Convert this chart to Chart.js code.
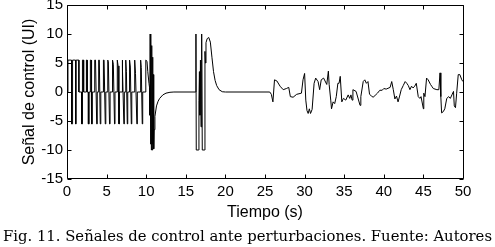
<!DOCTYPE html>
<html>
<head>
<meta charset="utf-8">
<script src="https://cdn.jsdelivr.net/npm/chart.js@4.4.1/dist/chart.umd.min.js"></script>
<style>
  html, body { margin: 0; padding: 0; background: #fff; }
  #wrap { position: relative; width: 495px; height: 247px; overflow: hidden; }
  #c { position: absolute; left: 0; top: 0; }
  #cap { position: absolute; left: 3px; top: 229px; font-family: "DejaVu Serif", serif; font-size: 14px; line-height: 14px; white-space: nowrap; color: #000; transform-origin: 0 0; }
</style>
</head>
<body>
<div id="wrap">
  <canvas id="c" width="495" height="247"></canvas>
  <div id="cap">Fig. 11. Señales de control ante perturbaciones. Fuente: Autores</div>
</div>
<script>
// ---- data (time in s, control signal in UI) ----
const xTicks = [0, 5, 10, 15, 20, 25, 30, 35, 40, 45, 50];
const yTicks = [-15, -10, -5, 0, 5, 10, 15];

const squareWave = [[0,0],[0.12,0],[0.12,5.5],[0.57,5.5],[0.57,-5.5],[0.65,-5.5],[0.65,0],[0.73,0],[0.73,5.5],[1.08,5.5],[1.08,-5.5],[1.16,-5.5],[1.16,5.5],[1.5,5.5],[1.5,0],[1.85,0],[1.85,-5.5],[1.95,-5.5],[1.95,5.5],[2.1,5.5],[2.1,0],[2.45,0],[2.45,5.5],[2.55,5.5],[2.55,0],[2.7,0],[2.7,-5.5],[2.8,-5.5],[2.8,0],[2.95,0],[2.95,5.5],[3.05,5.5],[3.1,-5.5],[3.2,-5.5],[3.2,0],[3.5,0],[3.5,5.5],[3.6,5.5],[3.75,-5.5],[3.82,-5.5],[3.82,0],[4.0,0],[4.0,5.5],[4.08,5.5],[4.2,-5.5],[4.27,-5.5],[4.27,0],[4.6,0],[4.6,5.5],[4.68,5.5],[4.83,-5.5],[4.9,-5.5],[4.9,0],[5.15,0],[5.15,5.5],[5.22,5.2],[5.37,-5.5],[5.44,-5.5],[5.44,0],[5.75,0],[5.75,5.5],[5.85,4.8],[6.0,-5.5],[6.06,-5.5],[6.06,0],[6.35,0],[6.35,5.5],[6.45,4.5],[6.55,-5.5],[6.62,-5.5],[6.62,0],[6.95,0],[6.95,5.5],[7.05,4.0],[7.18,-5.5],[7.24,-5.5],[7.24,0],[7.42,0],[7.42,5.5],[7.5,3.5],[7.61,-5.5],[7.67,-5.5],[7.67,0],[7.9,0],[7.9,5.5],[8.0,4.3],[8.12,-5.5],[8.18,-5.5],[8.18,0],[8.55,0],[8.55,5.5],[8.65,3.2],[8.82,-5.5],[8.88,-5.5],[8.88,0],[9.3,0],[9.3,5.5],[9.38,4.2],[9.5,-5.5],[9.56,-5.5],[9.56,0],[9.95,0],[9.95,5.5],[10.1,5.3],[10.2,3.5],[10.35,1.5],[10.42,0.8]];

const firstDisturbance = [[10.45,-4],[10.5,10],[10.55,-9],[10.6,10],[10.65,-10],[10.7,8],[10.75,-10],[10.8,6],[10.85,-9],[10.9,3],[10.95,-9.8],[11.0,-6.5],[11.1,-4.2],[11.3,-2.4],[11.5,-1.6],[11.7,-1.1],[12.1,-0.5],[12.5,-0.2],[13.0,-0.05],[13.5,0],[16.25,0]];

const secondDisturbance = [[16.28,10],[16.32,-10],[16.62,-10],[16.66,-1.5],[16.72,3.5],[16.78,-4],[16.85,5.5],[16.92,-6],[16.98,2],[17.03,10],[17.08,-10],[17.38,-10],[17.42,7],[17.48,5],[17.55,8.5],[17.7,9.2],[17.9,9.4],[18.1,8.6],[18.3,6.0],[18.5,3.5],[18.7,2.0],[18.9,1.1],[19.2,0.4],[19.6,0.05],[20,0],[25,0]];

const noisyPhase = [[25.6,0],[25.8,-0.4],[26.0,-1.7],[26.2,2.1],[26.5,1.9],[26.9,1.0],[27.3,0.4],[27.7,0.6],[28.0,0.8],[28.2,-0.8],[28.55,-0.9],[29.0,-0.4],[29.6,-0.2],[29.8,2.1],[30.0,3.2],[30.15,-1.4],[30.3,-3.2],[30.45,-3.7],[30.6,-2.9],[30.75,-3.7],[30.95,-3.0],[31.2,1.5],[31.4,2.4],[31.7,1.8],[31.9,0.4],[32.1,2.1],[32.4,2.4],[32.8,1.3],[33.0,3.6],[33.1,1.3],[33.3,-1.4],[33.4,-2.9],[33.6,-1.7],[33.8,-2.0],[34.0,-0.8],[34.2,1.5],[34.35,1.5],[34.5,2.7],[34.7,-1.7],[34.9,-1.1],[35.2,-1.4],[35.5,-0.5],[35.7,-1.1],[35.85,-0.5],[36.0,-1.4],[36.1,0.4],[36.5,0.1],[37.0,-2.3],[37.1,-0.8],[37.4,1.8],[37.6,2.1],[37.8,1.5],[38.0,1.8],[38.2,-0.4],[38.45,-0.7],[38.65,-0.9],[38.9,-0.6],[39.2,-0.2],[39.5,0.3],[39.8,0.3],[40.0,0.6],[40.3,0.5],[40.8,0.8],[41.0,1.8],[41.2,0.4],[41.4,-1.2],[41.6,-0.7],[41.8,-1.7],[42.0,-0.7],[42.2,0.4],[42.45,1.1],[42.7,1.8],[42.9,1.5],[43.1,1.1],[43.3,0.4],[43.5,1.0],[43.7,0.7],[43.9,1.0],[44.1,1.5],[44.35,-0.8],[44.55,-1.1],[44.7,-0.8],[45.0,-2.9],[45.05,-0.2],[45.2,-0.8],[45.4,2.4],[45.6,2.1],[45.9,1.3],[46.05,1.0],[46.25,0.6],[46.7,0.4],[46.95,0.4],[47.1,3.3],[47.2,-0.8],[47.3,-3.6],[47.5,-3.4],[47.7,-2.9],[47.95,-1.1],[48.2,-0.8],[48.4,-1.1],[48.6,-0.5],[48.8,0.1],[48.9,-2.4],[49.05,-2.7],[49.2,-0.2],[49.4,3.0],[49.6,3.0],[49.85,2.1],[50,1.8]];

const signal = squareWave.concat(firstDisturbance, secondDisturbance, noisyPhase)
  .map(p => ({ x: p[0], y: p[1] }));

// ---- plugin: MATLAB-style box with inward ticks ----
const boxPlugin = {
  id: 'box',
  afterDraw(chart) {
    const { ctx, scales: { x, y } } = chart;
    const L = Math.round(x.getPixelForValue(0)) + 0.5;
    const R = Math.round(x.getPixelForValue(50)) + 0.5;
    const T = Math.round(y.getPixelForValue(15)) + 0.5;
    const B = Math.round(y.getPixelForValue(-15)) - 0.5;
    ctx.save();
    ctx.strokeStyle = '#000';
    ctx.lineWidth = 1;
    ctx.beginPath();
    ctx.rect(L, T, R - L, B - T);
    const tl = 4;
    xTicks.forEach(v => {
      const px = Math.round(x.getPixelForValue(v)) + 0.5;
      ctx.moveTo(px, B); ctx.lineTo(px, B - tl);
      ctx.moveTo(px, T); ctx.lineTo(px, T + tl);
    });
    yTicks.forEach(v => {
      const py = Math.round(y.getPixelForValue(v)) + 0.5;
      ctx.moveTo(L, py); ctx.lineTo(L + tl, py);
      ctx.moveTo(R, py); ctx.lineTo(R - tl, py);
    });
    ctx.stroke();
    ctx.restore();
  }
};

const tickFont = { family: '"Liberation Sans", Arial, sans-serif', size: 15 };
const titleFont = { family: '"Liberation Sans", Arial, sans-serif', size: 16 };

new Chart(document.getElementById('c'), {
  type: 'line',
  data: {
    datasets: [{
      data: signal,
      borderColor: '#000',
      borderWidth: 1,
      pointRadius: 0,
      tension: 0,
      fill: false
    }]
  },
  options: {
    responsive: false,
    animation: false,
    events: [],
    plugins: { legend: { display: false }, tooltip: { enabled: false } },
    layout: { padding: { left: 0, right: 32, top: 5, bottom: 25 } },
    scales: {
      x: {
        type: 'linear', min: 0, max: 50,
        afterBuildTicks(s) { s.ticks = xTicks.map(v => ({ value: v })); },
        ticks: { font: tickFont, color: '#000', padding: 4, maxRotation: 0, autoSkip: false },
        grid: { display: false, drawTicks: false },
        border: { display: false },
        title: { display: true, text: 'Tiempo (s)', font: titleFont, color: '#000', padding: { top: 0, bottom: 0 } },
        afterFit(s) { s.height = 43; s.paddingLeft = 0; s.paddingRight = 0; }
      },
      y: {
        type: 'linear', min: -15, max: 15,
        afterBuildTicks(s) { s.ticks = yTicks.map(v => ({ value: v })); },
        ticks: { font: tickFont, color: '#000', padding: 4, autoSkip: false },
        grid: { display: false, drawTicks: false },
        border: { display: false },
        title: { display: true, text: 'Señal de control (UI)', font: titleFont, color: '#000', padding: { top: 20, bottom: 0 } },
        afterFit(s) { s.width = 67; s.paddingTop = 0; s.paddingBottom = 0; }
      }
    }
  },
  plugins: [boxPlugin]
});

// fit caption to the reference width
const cap = document.getElementById('cap');
const w = cap.getBoundingClientRect().width;
cap.style.transform = 'scaleX(' + (489 / w) + ')';
</script>
</body>
</html>
